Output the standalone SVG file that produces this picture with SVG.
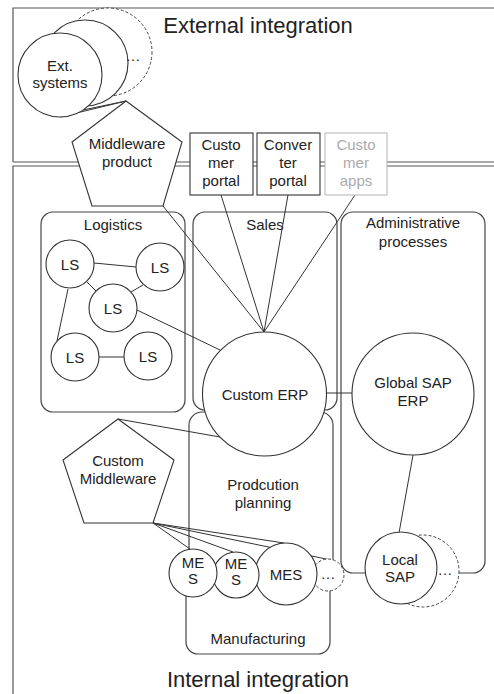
<svg xmlns="http://www.w3.org/2000/svg" width="494" height="694" viewBox="0 0 494 694">
<style>
text{font-family:"Liberation Sans",Arial,sans-serif;fill:#222;text-anchor:middle}
.lbl{font-size:15px}
.big{font-size:22px}
.frame{fill:none;stroke:#555;stroke-width:1.2}
.grp{fill:none;stroke:#444;stroke-width:1.2}
.node{fill:#fff;stroke:#333;stroke-width:1.1}
.dash{fill:#fff;stroke:#444;stroke-width:1;stroke-dasharray:3 2}
.con{fill:none;stroke:#333;stroke-width:1}
</style>
<rect width="494" height="694" fill="#fff"/>
<g id="frames">
<path class="frame" d="M13,162 V8 H500 M13,162 H500"/>
<path class="frame" d="M13,694 V166 H500"/>
<text class="big" x="258" y="33">External integration</text>
<text class="big" x="258" y="687">Internal integration</text>
</g>
<g id="logistics">
<rect class="grp" x="41" y="212" width="144" height="200" rx="12"/>
<text class="lbl" x="113" y="230">Logistics</text>
</g>
<g id="sales">
<rect class="grp" x="193" y="212" width="144" height="198" rx="12"/>
<text class="lbl" x="265" y="230">Sales</text>
</g>
<g id="admin">
<rect class="grp" x="341" y="212" width="144" height="361" rx="12"/>
<text class="lbl" x="413" y="228">Administrative</text>
<text class="lbl" x="413" y="247">processes</text>
</g>
<g id="production-planning">
<rect class="grp" x="189" y="412" width="144" height="162" rx="13"/>
<text class="lbl" x="263" y="490">Prodcution</text>
<text class="lbl" x="263" y="508">planning</text>
</g>
<g id="manufacturing">
<rect class="grp" x="186" y="574" width="144" height="80" rx="12"/>
<text class="lbl" x="258" y="644">Manufacturing</text>
</g>
<g id="connectors">
<line class="con" x1="126" y1="101" x2="60" y2="117"/>
<line class="con" x1="126" y1="101" x2="83" y2="110"/>
<line class="con" x1="163" y1="206" x2="264" y2="332"/>
<line class="con" x1="221" y1="195" x2="264" y2="332"/>
<line class="con" x1="288" y1="195" x2="264" y2="332"/>
<line class="con" x1="355" y1="195" x2="264" y2="332"/>
<line class="con" x1="94" y1="263" x2="136" y2="267"/>
<line class="con" x1="87" y1="282" x2="96" y2="291"/>
<line class="con" x1="131" y1="292" x2="143" y2="285"/>
<line class="con" x1="68" y1="289" x2="57" y2="341"/>
<line class="con" x1="99" y1="357" x2="124" y2="357"/>
<line class="con" x1="137" y1="310" x2="220" y2="350"/>
<line class="con" x1="326" y1="393" x2="352" y2="393"/>
<line class="con" x1="413" y1="455" x2="399" y2="533"/>
<line class="con" x1="118" y1="419" x2="220" y2="437"/>
<line class="con" x1="153" y1="523" x2="190" y2="549"/>
<line class="con" x1="153" y1="523" x2="233" y2="552"/>
<line class="con" x1="153" y1="523" x2="284" y2="543"/>
<line class="con" x1="153" y1="523" x2="331" y2="560"/>
</g>
<g id="ext-systems">
<circle class="dash" cx="108" cy="52" r="44"/>
<circle class="node" cx="85" cy="63" r="43"/>
<circle class="node" cx="60" cy="75" r="42"/>
<text class="lbl" x="133" y="61">…</text>
<text class="lbl" x="60" y="71">Ext.</text>
<text class="lbl" x="60" y="88">systems</text>
</g>
<g id="middleware-product">
<polygon class="node" points="126,101 182,142 163,206 92,206 72,142"/>
<text class="lbl" x="127" y="149">Middleware</text>
<text class="lbl" x="127" y="167">product</text>
</g>
<g id="customer-portal">
<rect class="node" x="190" y="133" width="63" height="62"/>
<text class="lbl" x="221" y="150">Custo</text>
<text class="lbl" x="221" y="168">mer</text>
<text class="lbl" x="221" y="186">portal</text>
</g>
<g id="converter-portal">
<rect class="node" x="257" y="133" width="63" height="62"/>
<text class="lbl" x="288" y="150">Conver</text>
<text class="lbl" x="288" y="168">ter</text>
<text class="lbl" x="288" y="186">portal</text>
</g>
<g id="customer-apps">
<rect x="325" y="133" width="62" height="62" fill="#fff" stroke="#bbb" stroke-width="1.1"/>
<text class="lbl" x="356" y="150" style="fill:#aaa">Custo</text>
<text class="lbl" x="356" y="168" style="fill:#aaa">mer</text>
<text class="lbl" x="356" y="186" style="fill:#aaa">apps</text>
</g>
<g id="ls1"><circle class="node" cx="70" cy="264" r="24"/><text class="lbl" x="70" y="270">LS</text></g>
<g id="ls2"><circle class="node" cx="160" cy="267" r="24"/><text class="lbl" x="160" y="273">LS</text></g>
<g id="ls3"><circle class="node" cx="113" cy="308" r="24"/><text class="lbl" x="113" y="314">LS</text></g>
<g id="ls4"><circle class="node" cx="75" cy="357" r="24"/><text class="lbl" x="75" y="363">LS</text></g>
<g id="ls5"><circle class="node" cx="148" cy="356" r="24"/><text class="lbl" x="148" y="362">LS</text></g>
<g id="custom-erp">
<circle class="node" cx="264.5" cy="394" r="62"/>
<text class="lbl" x="265" y="400">Custom ERP</text>
</g>
<g id="global-sap-erp">
<circle class="node" cx="413" cy="394" r="61"/>
<text class="lbl" x="413" y="388">Global SAP</text>
<text class="lbl" x="413" y="406">ERP</text>
</g>
<g id="custom-middleware">
<polygon class="node" points="118,419 174,460 153,523 84,523 63,460"/>
<text class="lbl" x="118" y="466">Custom</text>
<text class="lbl" x="118" y="484">Middleware</text>
</g>
<g id="mes-more">
<circle class="dash" cx="328" cy="575" r="16"/>
<text class="lbl" x="328" y="579">…</text>
</g>
<g id="mes3">
<circle class="node" cx="286" cy="574" r="31"/>
<text class="lbl" x="286" y="580">MES</text>
</g>
<g id="mes2">
<circle class="node" cx="236" cy="575" r="23"/>
<text class="lbl" x="236" y="569">ME</text>
<text class="lbl" x="236" y="585">S</text>
</g>
<g id="mes1">
<circle class="node" cx="193" cy="573" r="24"/>
<text class="lbl" x="193" y="568">ME</text>
<text class="lbl" x="193" y="584">S</text>
</g>
<g id="local-sap">
<circle class="dash" cx="423" cy="571" r="36"/>
<text class="lbl" x="445" y="575">…</text>
<circle class="node" cx="401" cy="568" r="36"/>
<text class="lbl" x="400" y="565">Local</text>
<text class="lbl" x="400" y="582">SAP</text>
</g>
</svg>
